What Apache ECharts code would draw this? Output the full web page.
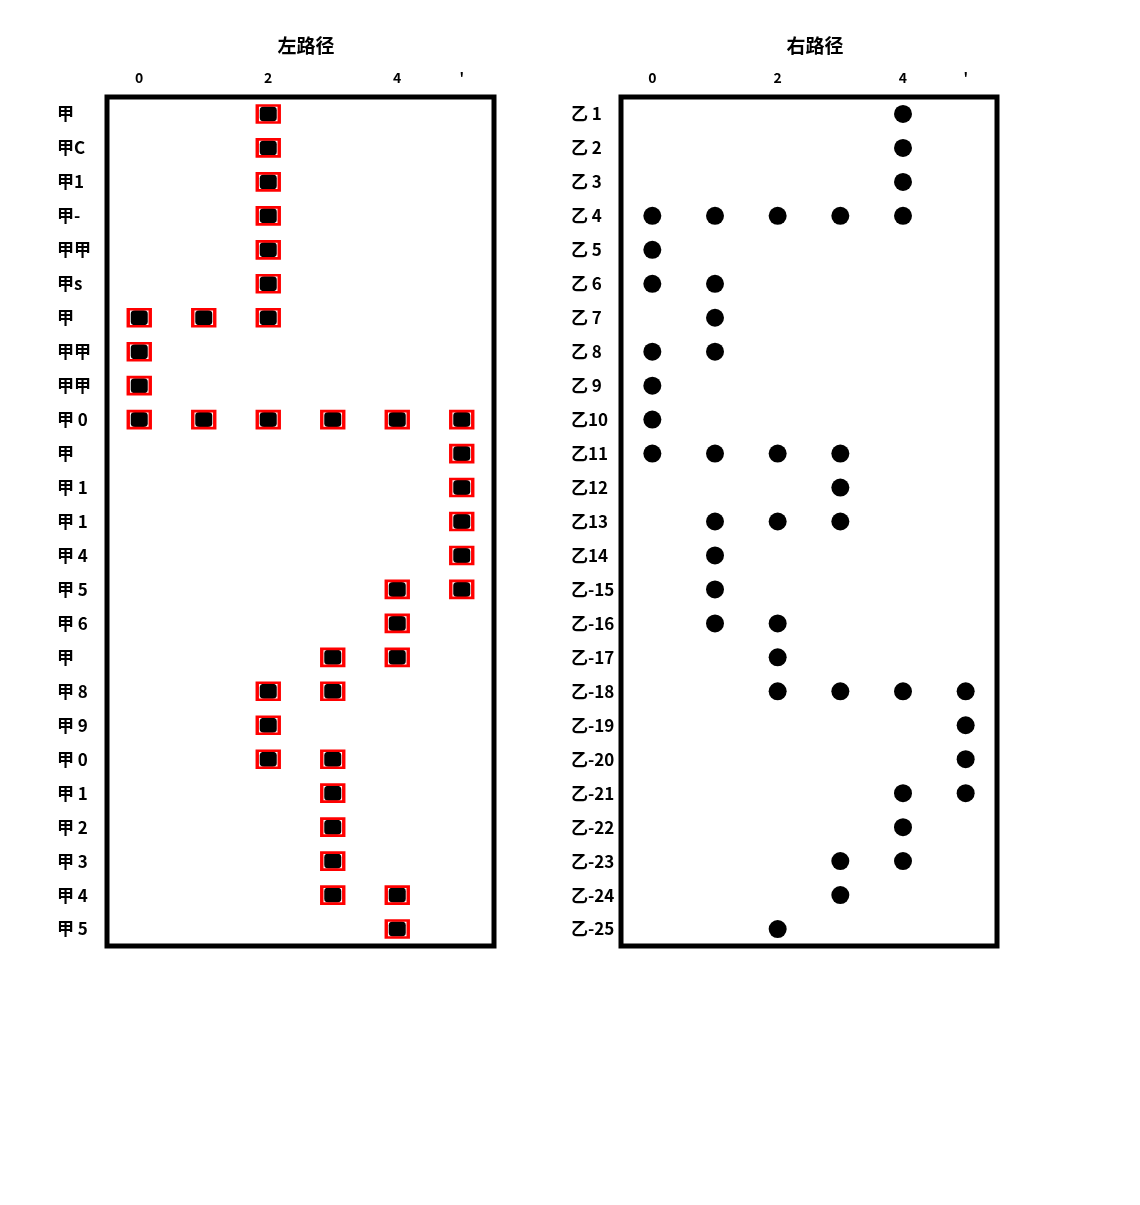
<!DOCTYPE html>
<html><head><meta charset="utf-8">
<script src="https://cdn.jsdelivr.net/npm/echarts@6/dist/echarts.min.js"></script>
<style>html,body{margin:0;padding:0;background:#fff}#c{width:1140px;height:1205px}</style>
</head><body><div id="c"></div>
<script>
const xCats = ['0','1','2','3','4','5'];
const xShown = {0:'0',2:'2',4:'4',5:"'"};
const leftTitle = '左路径';
const rightTitle = '右路径';
const leftRows = ['甲','甲C','甲1','甲-','甲甲','甲s','甲','甲甲','甲甲','甲 0','甲','甲 1','甲 1','甲 4','甲 5','甲 6','甲','甲 8','甲 9','甲 0','甲 1','甲 2','甲 3','甲 4','甲 5'];
const rightRows = ['乙 1','乙 2','乙 3','乙 4','乙 5','乙 6','乙 7','乙 8','乙 9','乙10','乙11','乙12','乙13','乙14','乙-15','乙-16','乙-17','乙-18','乙-19','乙-20','乙-21','乙-22','乙-23','乙-24','乙-25'];
const leftCols = [[2],[2],[2],[2],[2],[2],[0,1,2],[0],[0],[0,1,2,3,4,5],[5],[5],[5],[5],[4,5],[4],[3,4],[2,3],[2],[2,3],[3],[3],[3],[3,4],[4]];
const rightCols = [[4],[4],[4],[0,1,2,3,4],[0],[0,1],[1],[0,1],[0],[0],[0,1,2,3],[3],[1,2,3],[1],[1],[1,2],[2],[2,3,4,5],[5],[5],[4,5],[4],[3,4],[3],[2]];

function toPoints(cols){
  const out=[];
  cols.forEach((cs,i)=>cs.forEach(c=>out.push([c, i])));
  return out;
}
const leftPts = toPoints(leftCols);
const rightPts = toPoints(rightCols);

const chart = echarts.init(document.getElementById('c'));
const font = '"Noto Sans CJK SC", "Noto Sans", sans-serif';
function xAxis(gi){
  return {type:'category', gridIndex:gi, data:xCats, position:'top',
    axisLine:{show:false}, axisTick:{show:false}, splitLine:{show:false},
    axisLabel:{interval:(i)=>xShown[i]!==undefined, formatter:(v,i)=>xShown[i]||'', margin:12,
      fontSize:14, fontWeight:'bold', color:'#000', fontFamily:font}};
}
function yAxis(gi, rows){
  return {type:'category', gridIndex:gi, data:rows.map((r,i)=>String(i)), inverse:true,
    axisLine:{show:false}, axisTick:{show:false}, splitLine:{show:false},
    axisLabel:{interval:0, align:'left', margin:50, fontSize:17, fontWeight:'bold', color:'#000', fontFamily:font,
      formatter:(v,i)=>rows[i]}};
}
chart.setOption({
  animation:false,
  backgroundColor:'#fff',
  title:[
    {text:leftTitle, left:301, top:31, textAlign:'center', textStyle:{fontSize:19, fontWeight:'bold', color:'#000', fontFamily:font}},
    {text:rightTitle, left:810, top:31, textAlign:'center', textStyle:{fontSize:19, fontWeight:'bold', color:'#000', fontFamily:font}}
  ],
  grid:[
    {left:107, top:97, width:387, height:849, show:true, borderColor:'#000', borderWidth:5, backgroundColor:'transparent'},
    {left:621, top:97, width:376, height:849, show:true, borderColor:'#000', borderWidth:5, backgroundColor:'transparent'}
  ],
  xAxis:[xAxis(0), xAxis(1)],
  yAxis:[yAxis(0,leftRows), yAxis(1,rightRows)],
  series:[
    {type:'scatter', xAxisIndex:0, yAxisIndex:0, data:leftPts, symbol:'roundRect', symbolSize:[17,15], itemStyle:{color:'#000', opacity:1}},
    {type:'scatter', xAxisIndex:0, yAxisIndex:0, data:leftPts, symbol:'rect', symbolSize:[22,17], itemStyle:{color:'rgba(0,0,0,0)', borderColor:'#ff0000', borderWidth:3, opacity:1}},
    {type:'scatter', xAxisIndex:1, yAxisIndex:1, data:rightPts, symbol:'circle', symbolSize:18, itemStyle:{color:'#000', opacity:1}}
  ]
});
</script></body></html>
